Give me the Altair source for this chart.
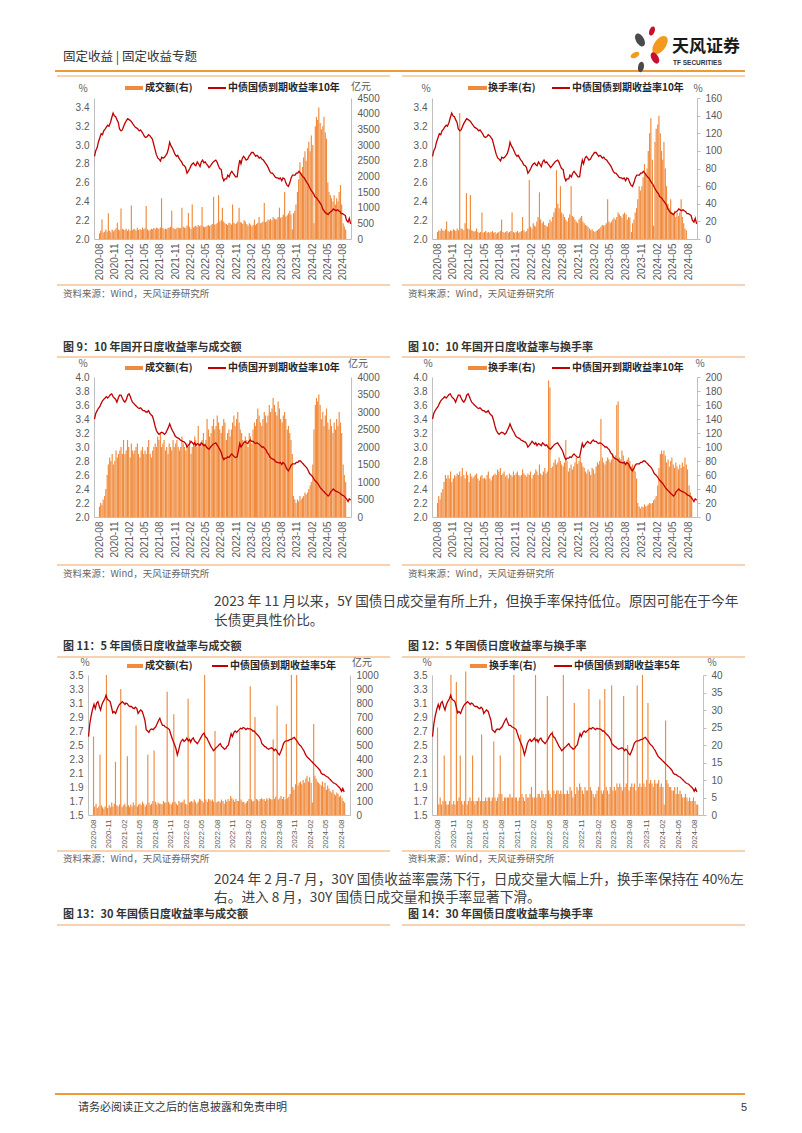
import altair as alt
import pandas as pd

W, H = 786, 1117
ORANGE = "#F08A3C"
RED = "#C00000"
LINE_OR = "#F2A45E"
GOLD = "#EE9B36"
GRAY = "#595959"
CJK = "Noto Sans CJK SC"
NUM = "Liberation Sans"

# ---------------- data (4 readings per month, Aug-2020 .. Aug-2024) ----------------
Y10_CGB = [
 2.88,2.94,2.97,3.03, 3.08,3.12,3.11,3.15, 3.17,3.19,3.21,3.20, 3.24,3.29,3.34,3.31, 3.30,3.27,3.24,3.17,
 3.15,3.16,3.20,3.23, 3.26,3.28,3.27,3.26, 3.25,3.23,3.21,3.19, 3.18,3.17,3.15,3.16, 3.14,3.12,3.09,3.08, 3.09,3.11,3.10,3.08,
 3.06,3.01,2.95,2.90, 2.86,2.85,2.83,2.87, 2.86,2.87,2.89,2.91, 2.96,3.03,2.99,2.97, 2.93,2.90,2.88,2.89, 2.86,2.84,2.82,2.79,
 2.78,2.76,2.70,2.72, 2.75,2.78,2.80,2.81, 2.79,2.78,2.82,2.80, 2.77,2.82,2.84,2.81, 2.82,2.80,2.78,2.76, 2.78,2.80,2.82,2.83,
 2.84,2.82,2.78,2.75, 2.74,2.66,2.62,2.64, 2.64,2.68,2.66,2.70, 2.72,2.70,2.68,2.66, 2.66,2.76,2.84,2.80, 2.86,2.88,2.86,2.84,
 2.85,2.88,2.90,2.92, 2.92,2.90,2.88,2.89, 2.88,2.86,2.87,2.85, 2.84,2.82,2.80,2.78, 2.75,2.72,2.70,2.70, 2.68,2.66,2.65,2.65,
 2.64,2.65,2.62,2.65, 2.64,2.60,2.57,2.56, 2.60,2.65,2.68,2.68, 2.68,2.70,2.70,2.72, 2.70,2.68,2.66,2.65, 2.62,2.60,2.58,2.55,
 2.52,2.50,2.48,2.45, 2.44,2.42,2.40,2.38, 2.36,2.32,2.30,2.28, 2.27,2.26,2.28,2.29, 2.30,2.32,2.31,2.30, 2.31,2.30,2.29,2.27,
 2.27,2.26,2.25,2.20, 2.18,2.22,2.16]

AMT10_CGB = [
 180,260,620,210, 230,300,240,820, 260,210,300,250, 290,340,520,300, 280,970,330,300,
 290,330,260,310, 260,1070,290,330, 300,270,360,290, 320,290,370,310, 340,1050,310,270, 290,330,310,350,
 310,360,340,330, 370,1300,350,310, 330,310,350,370, 390,900,350,330, 310,350,370,340, 350,1000,390,370,
 360,430,830,390, 320,1100,360,400, 420,380,450,410, 430,1020,400,380, 390,420,450,410, 440,480,1350,460,
 470,520,1400,560, 600,1000,560,500, 480,450,520,500, 460,1100,520,480, 500,560,1000,540, 520,480,600,560,
 480,420,500,460, 400,450,620,440, 480,520,700,500, 520,560,1150,540, 560,620,600,640, 600,700,650,620,
 650,700,1000,680, 700,780,1500,720, 760,820,900,780, 300,820,900,1100, 1500,1900,2450,2100, 2300,2600,2800,2500,
 2900,3100,2800,3300, 3000,500,3600,3900, 3800,4200,3700,3500, 3600,3900,3400,3200, 1800,1500,1400,1300, 1200,1400,1100,1300,
 1200,1500,1720,1100, 500,400,300]

TURN10_CGB = [
 8,10,9,12, 10,9,11,20, 9,8,10,9, 11,10,9,12, 10,143,12,11,
 10,18,52,12, 11,50,10,9, 8,9,12,8, 7,8,30,7, 8,9,7,8, 7,8,9,7,
 8,6,7,8, 9,22,8,7, 8,9,7,8, 9,30,8,7, 8,9,7,8, 9,25,10,8,
 9,12,67,14, 12,18,15,14, 20,25,53,22, 18,20,16,15, 14,18,22,20, 25,30,35,78,
 40,35,60,30, 28,25,22,20, 24,28,60,26, 25,22,20,18, 22,24,26,20, 18,16,15,14,
 12,10,11,9, 8,9,10,11, 12,14,16,15, 16,18,45,20, 18,20,22,24, 22,25,30,28,
 26,24,28,30, 28,22,25,24, 8,18,22,30, 35,45,60,55, 60,70,85,75,
 80,100,120,137, 90,15,110,125, 130,140,120,100, 90,110,80,60, 40,35,45,30, 28,32,25,30,
 26,30,45,25, 18,12,10]

Y10_CDB = [
 3.40,3.48,3.52,3.55, 3.58,3.62,3.66,3.68, 3.70,3.72,3.70,3.72, 3.75,3.76,3.72,3.70, 3.68,3.64,3.70,3.74,
 3.74,3.70,3.66,3.64, 3.68,3.74,3.76,3.72, 3.68,3.64,3.62,3.60, 3.58,3.56,3.55,3.56, 3.54,3.52,3.52,3.50, 3.50,3.52,3.48,3.46,
 3.44,3.38,3.30,3.24, 3.20,3.18,3.20,3.21, 3.20,3.18,3.20,3.24, 3.28,3.33,3.28,3.24, 3.20,3.16,3.14,3.13, 3.12,3.10,3.09,3.08,
 3.07,3.05,3.00,3.02, 3.05,3.08,3.06,3.04, 3.06,3.02,3.05,3.04, 3.02,3.06,3.04,3.02, 3.03,3.00,2.98,2.97, 3.00,3.02,3.04,3.05,
 3.06,3.03,3.00,2.97, 2.92,2.86,2.82,2.84, 2.84,2.86,2.85,2.88, 2.90,2.88,2.86,2.85, 2.86,2.95,3.05,3.00, 3.03,3.06,3.08,3.06,
 3.05,3.08,3.10,3.08, 3.08,3.06,3.05,3.06, 3.05,3.04,3.02,3.00, 3.00,2.98,2.96,2.92, 2.90,2.86,2.84,2.83, 2.82,2.80,2.78,2.78,
 2.77,2.78,2.75,2.78, 2.76,2.72,2.68,2.66, 2.70,2.74,2.76,2.76, 2.76,2.78,2.78,2.80, 2.80,2.78,2.76,2.74, 2.72,2.70,2.66,2.62,
 2.60,2.58,2.55,2.52, 2.50,2.48,2.45,2.42, 2.40,2.38,2.36,2.34, 2.32,2.30,2.32,2.36, 2.38,2.40,2.38,2.37, 2.36,2.35,2.34,2.32,
 2.31,2.30,2.28,2.26, 2.22,2.26,2.24]

AMT10_CDB = [
 300,400,350,500, 600,800,1200,1500, 1700,1600,1800,1500, 1600,1900,1700,1800, 1900,2000,1800,2200,
 1800,1900,2200,2000, 1700,2100,1900,1800, 1900,2000,2100,1800, 1700,1900,2000,1800, 1900,1800,2000,2200, 1800,1700,1900,2000,
 2100,2000,2300,2200, 2400,2000,2100,2200, 1900,2000,1800,2100, 2000,1900,2200,2000, 2100,2200,2000,1900, 2000,2300,2100,2000,
 1900,2100,2000,2200, 1800,2000,2100,2300, 2200,2000,2600,2100, 2000,2200,2400,2100, 2200,2800,2500,2300, 2400,2600,2800,2500,
 2600,2900,2700,2500, 2400,2600,2800,2700, 2200,2400,2500,2300, 2500,2700,2900,2600, 2800,3000,2700,2500, 2400,2200,2100,2300,
 2200,2000,2400,2300, 2100,2500,2700,2600, 2800,3100,2900,2700, 2600,2800,3000,2900, 2700,2900,3200,3000, 3100,3400,3200,3000,
 2900,3300,3100,2800, 2700,2900,3000,2800, 2500,2600,2400,2200, 1800,600,500,400, 500,450,600,500, 550,600,700,650,
 700,800,900,1000, 1500,2500,3200,3400, 3300,3500,3200,2800, 3000,2600,2900,3100, 2700,2500,2800,2600, 2400,2700,2500,2800,
 2600,3000,2700,2400, 1500,1200,1000]

TURN10_CDB = [
 20,30,25,35, 40,50,60,55, 60,55,65,50, 55,60,58,62, 60,65,58,70,
 60,55,65,60, 50,62,58,55, 58,60,62,55, 52,58,60,55, 56,54,60,65, 55,52,58,60,
 62,60,68,65, 70,60,62,65, 58,60,55,62, 60,58,65,60, 62,65,60,58, 60,68,62,60,
 58,62,60,65, 55,60,62,68, 65,60,75,62, 60,65,70,62, 65,195,185,70, 72,78,82,75,
 78,85,80,75, 72,78,110,80, 65,70,75,68, 72,78,85,76, 80,86,78,72, 70,65,62,68,
 65,60,70,68, 62,72,78,75, 80,140,85,78, 75,80,85,82, 78,82,90,85, 88,160,165,85,
 82,95,88,80, 78,82,85,80, 72,75,70,65, 55,20,15,12, 15,14,18,15, 16,18,20,19,
 20,24,26,30, 45,70,90,95, 90,95,88,78, 82,72,80,85, 75,70,78,72, 68,75,70,78,
 72,85,75,68, 45,35,30]

Y5_CGB = [
 2.62,2.80,2.92,3.00, 3.08,3.02,3.10,3.12, 3.05,3.00,3.08,3.12, 3.16,3.21,3.15,3.14, 3.12,3.05,2.96,2.98,
 2.95,3.00,3.05,3.08, 3.10,3.12,3.10,3.08, 3.10,3.09,3.06,3.05, 3.05,3.03,3.02,3.04, 3.02,2.95,2.98,3.00, 2.98,2.92,2.85,2.72,
 2.70,2.68,2.72,2.73, 2.72,2.74,2.76,2.80, 2.85,2.88,2.82,2.78, 2.78,2.76,2.75,2.74, 2.72,2.66,2.60,2.55,
 2.50,2.45,2.36,2.42, 2.52,2.56,2.58,2.55, 2.57,2.60,2.56,2.58, 2.54,2.58,2.60,2.56, 2.54,2.52,2.55,2.58, 2.62,2.65,2.67,2.62,
 2.60,2.56,2.52,2.48, 2.45,2.42,2.44,2.46, 2.48,2.50,2.52,2.48, 2.46,2.44,2.45,2.48, 2.50,2.58,2.66,2.62, 2.68,2.70,2.68,2.70,
 2.72,2.74,2.73,2.75, 2.74,2.72,2.74,2.73, 2.73,2.72,2.70,2.70, 2.68,2.66,2.64,2.62, 2.58,2.52,2.50,2.48, 2.47,2.45,2.44,2.45,
 2.46,2.45,2.42,2.44, 2.42,2.38,2.36,2.40, 2.46,2.52,2.55,2.56, 2.56,2.57,2.58,2.58, 2.60,2.61,2.58,2.56, 2.52,2.50,2.48,2.45,
 2.42,2.38,2.34,2.32, 2.30,2.28,2.26,2.24, 2.22,2.20,2.18,2.16, 2.14,2.10,2.08,2.08, 2.06,2.05,2.04,2.02, 2.00,1.98,1.96,1.95,
 1.94,1.92,1.90,1.88, 1.84,1.88,1.83]

AMT5_CGB = [
 560,60,80,50, 60,430,70,55, 45,60,1000,50, 70,55,90,60, 80,380,70,60,
 75,900,55,70, 80,60,420,70, 55,75,60,90, 70,640,60,75, 80,70,95,80, 60,75,430,90,
 70,80,100,460, 95,75,90,80, 80,75,100,90, 90,880,95,80, 75,90,720,95, 80,70,100,90,
 90,95,110,80, 75,830,90,95, 100,90,110,95, 80,95,115,110, 100,90,1000,110, 95,115,110,100,
 110,95,600,90, 95,100,90,110, 100,80,110,95, 115,100,135,120, 110,95,115,100, 100,600,110,95,
 95,80,90,100, 115,920,110,95, 100,700,115,110, 100,115,120,110, 115,100,120,110, 120,115,110,540,
 115,130,780,110, 120,135,115,130, 110,650,120,130, 150,1000,200,180, 220,1000,210,230, 240,220,250,230,
 260,280,240,270, 230,90,650,280, 260,240,230,220, 210,240,200,230, 180,210,190,170, 160,180,150,140,
 160,150,130,140, 120,100,90]

TURN5_CGB = [
 25,3,5,3, 4,17,4,3, 3,4,40,3, 4,3,38,4, 5,17,4,3,
 4,41,3,4, 5,4,17,4, 3,4,4,5, 4,23,4,4, 5,4,5,5, 4,5,21,5,
 4,5,6,17, 6,4,5,5, 5,5,6,5, 5,40,5,5, 4,5,23,6, 5,4,6,5,
 5,6,8,5, 5,40,5,6, 6,5,7,6, 5,6,34,7, 6,5,24,7, 6,7,7,6,
 7,6,40,6, 6,7,6,8, 7,5,32,6, 8,7,9,8, 7,6,8,7, 7,36,8,7,
 6,5,6,7, 8,33,7,6, 7,36,8,7, 6,8,37,7, 8,7,9,8, 9,8,7,34,
 8,9,20,7, 8,9,8,9, 7,37,8,9, 8,40,9,8, 10,32,9,10, 9,8,10,9,
 9,10,8,9, 8,3,27,10, 9,8,8,7, 7,8,6,8, 6,7,6,5, 5,6,5,4,
 5,4,4,5, 4,3,3]

L_TICKS_A = [2.0, 2.2, 2.4, 2.6, 2.8, 3.0, 3.2, 3.4]
L_TICKS_B = [2.0, 2.2, 2.4, 2.6, 2.8, 3.0, 3.2, 3.4, 3.6, 3.8, 4.0]
L_TICKS_C = [1.5, 1.7, 1.9, 2.1, 2.3, 2.5, 2.7, 2.9, 3.1, 3.3, 3.5]
R_TICKS_1 = [0, 500, 1000, 1500, 2000, 2500, 3000, 3500, 4000, 4500]
R_TICKS_2 = [0, 20, 40, 60, 80, 100, 120, 140, 160]
R_TICKS_9 = [0, 500, 1000, 1500, 2000, 2500, 3000, 3500, 4000]
R_TICKS_10 = [0, 20, 40, 60, 80, 100, 120, 140, 160, 180, 200]
R_TICKS_11 = [0, 100, 200, 300, 400, 500, 600, 700, 800, 900, 1000]
R_TICKS_12 = [0, 5, 10, 15, 20, 25, 30, 35, 40]

# ---------------- helpers ----------------
MONTHS = pd.date_range("2020-08-01", "2024-08-01", freq="MS")
DAYS = [4, 11, 19, 26]


def dates_for(vals):
    return [MONTHS[i // 4] + pd.Timedelta(days=DAYS[i % 4] - 1) for i in range(len(vals))]


DOM = [alt.DateTime(year=2020, month=8, date=1), alt.DateTime(year=2024, month=8, date=21)]
TICKS = []
_y, _m = 2020, 8
while (_y, _m) <= (2024, 8):
    TICKS.append(alt.DateTime(year=_y, month=_m, date=1))
    _m += 3
    if _m > 12:
        _m -= 12
        _y += 1


def panel(line_vals, bar_vals, x0, x1, y0, y1, ldom, lticks, rdom, rticks, rtick, xfs=10):
    xs = alt.Scale(domain=DOM, range=[x0, x1])
    df_b = pd.DataFrame({"date": dates_for(bar_vals), "v": bar_vals})
    df_l = pd.DataFrame({"date": dates_for(line_vals), "v": line_vals})
    bars = alt.Chart(df_b).mark_bar(color=ORANGE, size=1.15).encode(
        x=alt.X("date:T", scale=xs, axis=alt.Axis(
            orient="bottom", offset=y1 - H, values=TICKS, format="%Y-%m", labelAngle=270,
            labelFontSize=xfs, labelFont=NUM, labelColor=GRAY, labelPadding=4,
            labelFlush=False, labelOverlap=False, ticks=False, domainColor="#BFBFBF",
            grid=False, title=None)),
        y=alt.Y("v:Q", scale=alt.Scale(domain=rdom, range=[y1, y0], nice=False, zero=False),
                axis=alt.Axis(orient="right", offset=x1 - W, values=rticks, format="d",
                              labelFontSize=10, labelFont=NUM, labelColor=GRAY, labelPadding=5 if rtick else 6,
                              ticks=rtick, tickSize=3, tickColor="#BFBFBF", domainColor="#BFBFBF",
                              grid=False, title=None, labelOverlap=False)),
    )
    line = alt.Chart(df_l).mark_line(color=RED, strokeWidth=1.3).encode(
        x=alt.X("date:T", scale=xs, axis=None),
        y=alt.Y("v:Q", scale=alt.Scale(domain=ldom, range=[y1, y0], nice=False, zero=False),
                axis=alt.Axis(orient="left", offset=-x0, values=lticks, format=".1f",
                              labelFontSize=10, labelFont=NUM, labelColor=GRAY, labelPadding=5,
                              ticks=False, domainColor="#BFBFBF", grid=False, title=None,
                              labelOverlap=False)),
    )
    return [bars, line]


def px(enc_x="x", enc_y="y"):
    return dict(x=alt.X(f"{enc_x}:Q", scale=None, axis=None), y=alt.Y(f"{enc_y}:Q", scale=None, axis=None))


def text_layer(rows, size, color, weight="normal", align="left", font=CJK):
    df = pd.DataFrame(rows, columns=["t", "x", "y"])
    return alt.Chart(df).mark_text(align=align, baseline="middle", font=font, fontSize=size,
                                   color=color, fontWeight=weight).encode(text="t:N", **px())


def rule_layer(rows, color, width):
    df = pd.DataFrame(rows, columns=["x", "x2", "y"])
    return alt.Chart(df).mark_rule(color=color, strokeWidth=width).encode(x2="x2:Q", **px())


# ---------------- panels ----------------
layers = []
layers += panel(Y10_CGB, AMT10_CGB, 86, 343, 90, 231, [2.0, 3.5], L_TICKS_A, [0, 4500], R_TICKS_1, False)
layers += panel(Y10_CGB, TURN10_CGB, 424, 689, 90, 231, [2.0, 3.5], L_TICKS_A, [0, 160], R_TICKS_2, True)
layers += panel(Y10_CDB, AMT10_CDB, 86, 343, 369, 509, [2.0, 4.0], L_TICKS_B, [0, 4000], R_TICKS_9, False)
layers += panel(Y10_CDB, TURN10_CDB, 424, 689, 369, 509, [2.0, 4.0], L_TICKS_B, [0, 200], R_TICKS_10, True)
layers += panel(Y5_CGB, AMT5_CGB, 80, 342, 667, 807, [1.5, 3.5], L_TICKS_C, [0, 1000], R_TICKS_11, False, 8)
layers += panel(Y5_CGB, TURN5_CGB, 424, 695, 667, 807, [1.5, 3.5], L_TICKS_C, [0, 40], R_TICKS_12, True, 8)

# ---------------- page decorations ----------------
layers.append(rule_layer([(47, 737, 63), (47, 737, 1086)], GOLD, 2))
seg = []
for yy in [68, 277, 349, 557, 649, 843, 917]:
    seg += [(49, 382, yy), (394, 737, yy)]
layers.append(rule_layer(seg, LINE_OR, 1))
layers.append(rule_layer([(200, 218, 80), (544, 562, 80), (200, 218, 360), (544, 562, 360),
                          (204, 220, 658), (546, 564, 658)], RED, 2))

sw = pd.DataFrame([(117, 135, 78, 82), (460, 479, 78, 82), (117, 135, 358, 362), (460, 479, 358, 362),
                   (119, 135, 656, 660), (462, 479, 656, 660)], columns=["x", "x2", "y", "y2"])
layers.append(alt.Chart(sw).mark_rect(color=ORANGE).encode(x2="x2:Q", y2="y2:Q", **px()))

PETAL = "M0,-1 C0.75,-1 0.75,1 0,1 C-0.75,1 -0.75,-1 0,-1 Z"
petals = pd.DataFrame([
    (632, 32, 196, 330, "#4A4A4A"),
    (644, 23, 90, 20, "#C8102E"),
    (652, 37, 420, 35, "#F39A1E"),
    (627, 47, 90, 60, "#F39A1E"),
    (647, 50, 150, 330, "#C8102E"),
    (633, 59, 110, 10, "#4A4A4A"),
], columns=["x", "y", "s", "a", "c"])
layers.append(alt.Chart(petals).mark_point(shape=PETAL, filled=True, opacity=1, strokeWidth=0).encode(
    size=alt.Size("s:Q", scale=None), angle=alt.Angle("a:Q", scale=None),
    color=alt.Color("c:N", scale=None), **px()))

layers.append(text_layer([("固定收益 | 固定收益专题", 55, 49)], 12.5, "#333333"))
layers.append(text_layer([("天风证券", 664, 39)], 17, "#1A1A1A", "bold"))
layers.append(text_layer([("TF SECURITIES", 665, 55)], 6.5, "#333333", "bold", font=NUM))

layers.append(text_layer([
    ("图 9：10 年国开日度收益率与成交额", 55, 340), ("图 10：10 年国开日度收益率与换手率", 400, 340),
    ("图 11：5 年国债日度收益率与成交额", 55, 639), ("图 12：5 年国债日度收益率与换手率", 400, 639),
    ("图 13：30 年国债日度收益率与成交额", 55, 907), ("图 14：30 年国债日度收益率与换手率", 400, 907),
], 11, "#333333", "bold"))

SRC = "资料来源：Wind，天风证券研究所"
layers.append(text_layer([(SRC, 55, 286), (SRC, 400, 286), (SRC, 55, 566), (SRC, 400, 566),
                          (SRC, 55, 851), (SRC, 400, 851)], 9.5, "#666666"))

layers.append(text_layer([
    ("2023 年 11 月以来，5Y 国债日成交量有所上升，但换手率保持低位。原因可能在于今年", 206, 594),
    ("长债更具性价比。", 206, 613),
    ("2024 年 2 月-7 月，30Y 国债收益率震荡下行，日成交量大幅上升，换手率保持在 40%左", 206, 872),
    ("右。进入 8 月，30Y 国债日成交量和换手率显著下滑。", 206, 890),
], 13.7, "#404040"))

layers.append(text_layer([("请务必阅读正文之后的信息披露和免责申明", 70, 1100)], 11, "#333333"))
layers.append(text_layer([("5", 733, 1100)], 11, "#333333", font=NUM))

layers.append(text_layer([
    ("成交额(右)", 137, 80), ("中债国债到期收益率10年", 220, 80),
    ("换手率(右)", 480, 80), ("中债国债到期收益率10年", 564, 80),
    ("成交额(右)", 137, 360), ("中债国开到期收益率10年", 220, 360),
    ("换手率(右)", 480, 360), ("中债国开到期收益率10年", 564, 360),
    ("成交额(右)", 137, 658), ("中债国债到期收益率5年", 222, 658),
    ("换手率(右)", 481, 658), ("中债国债到期收益率5年", 566, 658),
], 10, "#262626", "bold"))

layers.append(text_layer([
    ("%", 75, 81), ("亿元", 353, 79), ("%", 418, 81), ("%", 690, 81),
    ("%", 75, 356), ("亿元", 350, 356), ("%", 420, 356), ("%", 692, 356),
    ("%", 77, 655), ("亿元", 354, 655), ("%", 419, 655), ("%", 704, 655),
], 10, GRAY, align="center"))

chart = alt.layer(*layers).resolve_scale(x="independent", y="independent").resolve_axis(
    x="independent", y="independent").properties(
    width=W, height=H, autosize=alt.AutoSizeParams(type="none"), padding=0, background="white"
).configure_view(stroke=None)

chart.save("out.html", embed_options={"renderer": "svg", "actions": False})
